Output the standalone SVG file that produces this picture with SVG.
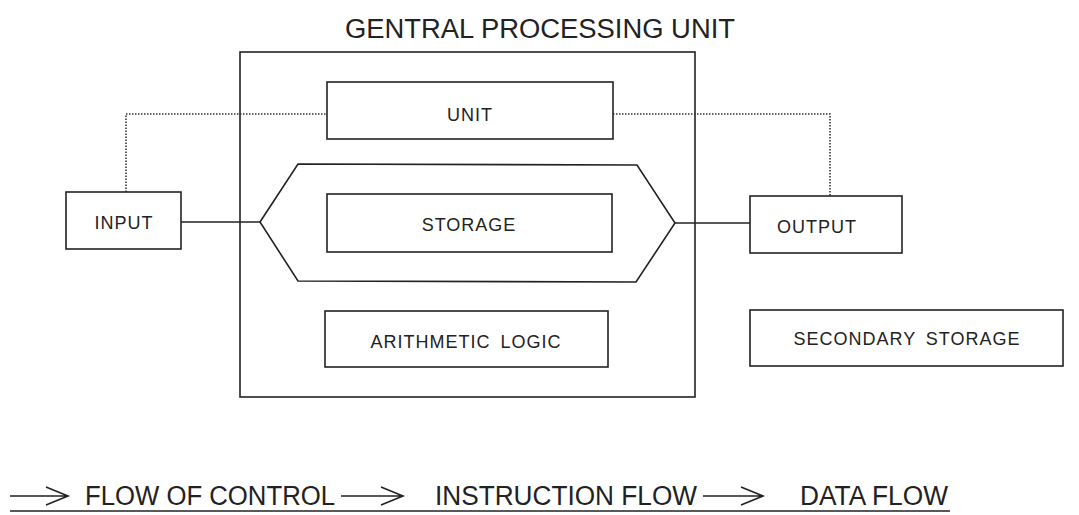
<svg xmlns="http://www.w3.org/2000/svg" width="1079" height="515" viewBox="0 0 1079 515">
<style>
.box{fill:none;stroke:#222;stroke-width:1.6}
.con{fill:none;stroke:#222;stroke-width:1.6}
.dot{fill:none;stroke:#333;stroke-width:1.6;stroke-dasharray:1.5 1.5}
.lbl{font-family:"Liberation Sans",Arial,sans-serif;font-size:18px;fill:#222;letter-spacing:1px;text-anchor:middle}
.big{font-family:"Liberation Sans",Arial,sans-serif;font-size:27px;fill:#222}
.leg{font-family:"Liberation Sans",Arial,sans-serif;font-size:27px;fill:#222}
</style>
<rect width="1079" height="515" fill="#fff"/>
<g id="title"><text class="big" x="345" y="38" textLength="390" lengthAdjust="spacingAndGlyphs">GENTRAL PROCESSING UNIT</text></g>
<g id="cpu"><rect class="box" x="240" y="52" width="455" height="345"/></g>
<g id="connectors">
<polyline class="dot" points="126,192 126,114 327,114"/>
<polyline class="dot" points="613,114 830,114 830,196"/>
<line class="con" x1="181" y1="222" x2="260" y2="222"/>
<line class="con" x1="675" y1="223" x2="750" y2="223"/>
</g>
<g id="unit"><rect class="box" x="327" y="82" width="286" height="57"/><text class="lbl" x="470" y="121">UNIT</text></g>
<g id="storage-bus"><polygon class="box" points="260,222 298,164 637,165 675,223 636,282 298,281"/></g>
<g id="storage"><rect class="box" x="327" y="194" width="285" height="58"/><text class="lbl" x="469" y="231">STORAGE</text></g>
<g id="input"><rect class="box" x="66" y="192" width="115" height="57"/><text class="lbl" x="124" y="229">INPUT</text></g>
<g id="output"><rect class="box" x="750" y="196" width="152" height="57"/><text class="lbl" x="817" y="233">OUTPUT</text></g>
<g id="alu"><rect class="box" x="325" y="311" width="283" height="56"/><text class="lbl" x="466" y="348" style="word-spacing:4px">ARITHMETIC LOGIC</text></g>
<g id="secondary"><rect class="box" x="750" y="310" width="313" height="56"/><text class="lbl" x="907" y="345" style="word-spacing:4px">SECONDARY STORAGE</text></g>
<g id="legend">
<path class="con" d="M10,496 H66 M46,487 L68,496 L46,505"/>
<text class="leg" x="85" y="505" textLength="250" lengthAdjust="spacingAndGlyphs">FLOW OF CONTROL</text>
<path class="con" d="M341,496 H401 M381,487 L403,496 L381,505"/>
<text class="leg" x="435" y="505" textLength="262" lengthAdjust="spacingAndGlyphs">INSTRUCTION FLOW</text>
<path class="con" d="M703,496 H761 M741,487 L763,496 L741,505"/>
<text class="leg" x="800" y="505" textLength="148" lengthAdjust="spacingAndGlyphs">DATA FLOW</text>
<line class="con" x1="10" y1="511" x2="950" y2="511" style="stroke-width:1.4"/>
</g>
</svg>
